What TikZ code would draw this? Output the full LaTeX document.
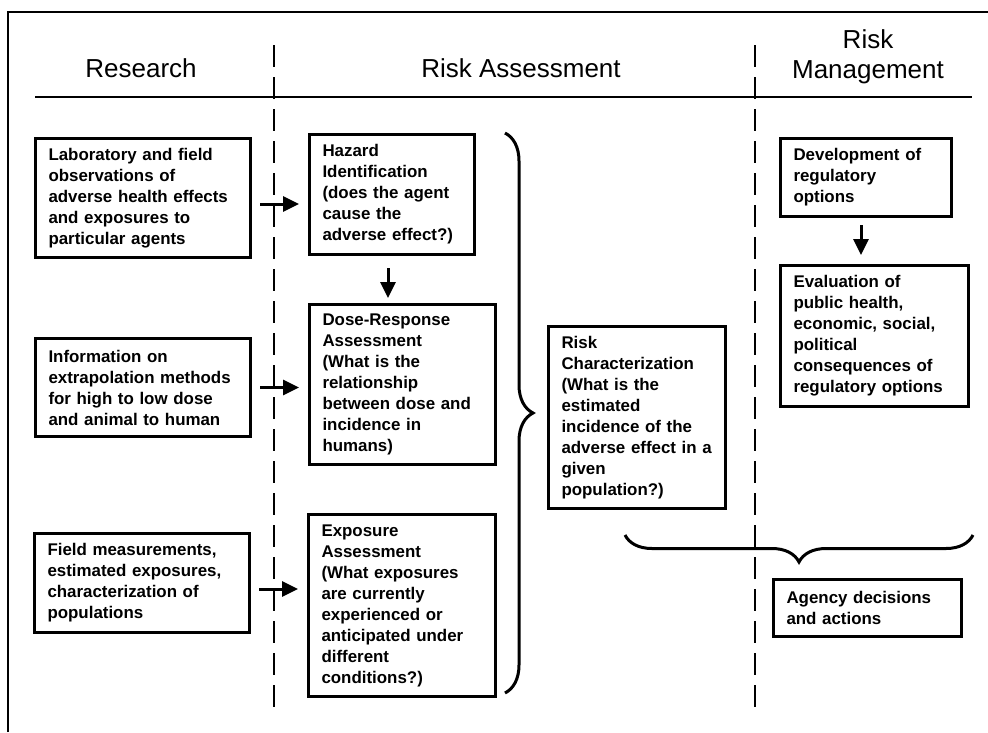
\documentclass[tikz,border=0pt]{standalone}
\usepackage{fontspec}
\setmainfont{Liberation Sans}
\usetikzlibrary{positioning, arrows.meta, decorations.pathreplacing}

\begin{document}
\begin{tikzpicture}[x=1pt, y=-1pt,
	box/.style={draw, line width=3pt, anchor=north west, align=left,
		inner xsep=13pt, font=\bfseries\fontsize{16.9}{21}\selectfont},
	head/.style={font=\fontsize{26}{30}\selectfont, align=center},
	flow/.style={line width=3pt, -{Triangle[length=16pt, width=15pt]}},
	divider/.style={line width=2.5pt, dash pattern=on 22pt off 10pt},
	bracket/.style={line width=3pt, decorate, decoration={brace, amplitude=28pt}}
	]
	\useasboundingbox (0,0) rectangle (988,732);
	% frame, header rule and column dividers
	\draw[line width=2.5pt] (8,732) -- (8,12) -- (988,12);
	\draw[line width=2.5pt] (35,97) -- (972,97);
	\draw[divider] (274,45) -- (274,710);
	\draw[divider] (755,45) -- (755,710);
	\node[head] (research) at (141,68) {Research};
	\node[head] (assess) at (521,68) {Risk Assessment};
	\node[head] (manage) at (868,57) {Risk\\Management};
	% research
	\node[box, text width=189pt, minimum height=119pt] (lab) at (34,137)
		{Laboratory and field\\observations of\\adverse health effects\\and exposures to\\particular agents};
	\node[box, text width=189pt, minimum height=98pt] (info) at (34,337)
		{Information on\\extrapolation methods\\for high to low dose\\and animal to human};
	\node[box, text width=189pt, minimum height=99pt] (field) at (33,532)
		{Field measurements,\\estimated exposures,\\characterization of\\populations};
	% risk assessment
	\node[box, text width=139pt, minimum height=120pt] (hazard) at (308,133)
		{Hazard\\Identification\\(does the agent\\cause the\\adverse effect?)};
	\node[box, text width=160pt, minimum height=160pt] (dose) at (308,303)
		{Dose-Response\\Assessment\\(What is the\\relationship\\between dose and\\incidence in\\humans)};
	\node[box, text width=161pt, minimum height=182pt] (expo) at (307,513)
		{Exposure\\Assessment\\(What exposures\\are currently\\experienced or\\anticipated under\\different\\conditions?)};
	\node[box, text width=151pt, minimum height=182pt] (riskchar) at (547,325)
		{Risk\\Characterization\\(What is the\\estimated\\incidence of the\\adverse effect in a\\given\\population?)};
	% risk management
	\node[box, text width=145pt, minimum height=78pt] (devel) at (779,137)
		{Development of\\regulatory\\options};
	\node[box, text width=162pt, minimum height=141pt] (evalu) at (779,264)
		{Evaluation of\\public health,\\economic, social,\\political\\consequences of\\regulatory options};
	\node[box, text width=162pt, minimum height=57pt] (agency) at (772,578)
		{Agency decisions\\and actions};
	% arrows
	\draw[flow, shorten <=8pt, shorten >=9pt]
		([yshift=-6pt]lab.east) -- ([yshift=-6pt]lab.east -| hazard.west);
	\draw[flow, shorten <=8pt, shorten >=9pt]
		(info.east) -- (info.east -| dose.west);
	\draw[flow, shorten <=8pt, shorten >=9pt]
		([yshift=-6pt]field.east) -- ([yshift=-6pt]field.east -| expo.west);
	\draw[flow, shorten <=12pt, shorten >=5pt]
		([xshift=-4pt]hazard.south) -- ([xshift=-4pt]hazard.south |- dose.north);
	\draw[flow, shorten <=7pt, shorten >=9pt]
		([xshift=-5pt]devel.south) -- ([xshift=-5pt]devel.south |- evalu.north);
	% braces
	\draw[bracket] (505,133) -- (505,693);
	\draw[bracket, decoration={brace, amplitude=27pt}] (973,535) -- (625,535);
\end{tikzpicture}
\end{document}
